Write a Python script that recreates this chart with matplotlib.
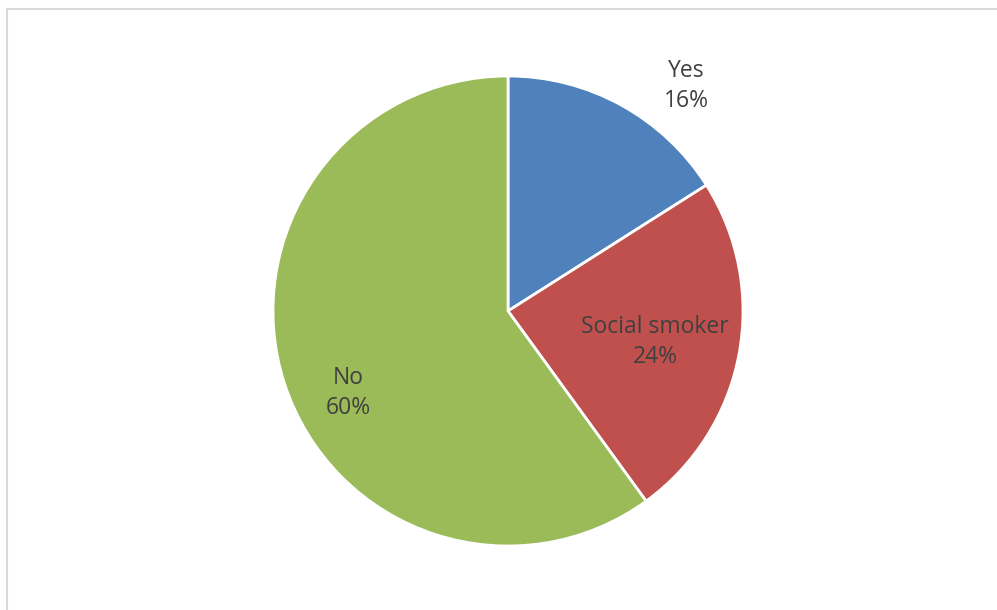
import matplotlib.pyplot as plt
from matplotlib.lines import Line2D

labels = ['Yes', 'Social smoker', 'No']
shares = [16, 24, 60]
colors = ['#4F81BD', '#C0504D', '#9BBB59']

# where each label sits, in units of the pie radius
label_pos = [(0.76, 0.957), (0.626, -0.132), (-0.681, -0.349)]

fig = plt.figure(figsize=(9.97, 6.1), dpi=100)

# thin grey chart-area frame
fig.add_artist(Line2D([6.5 / 997, 6.5 / 997], [0, 1 - 8.5 / 610], color='#D9D9D9', lw=1.5))
fig.add_artist(Line2D([6.5 / 997, 1], [1 - 8.5 / 610, 1 - 8.5 / 610], color='#D9D9D9', lw=1.5))

cx, cy, r = 508, 311, 235
ax = fig.add_axes([(cx - r) / 997, (610 - cy - r) / 610, 2 * r / 997, 2 * r / 610])
wedges, _ = ax.pie(shares, colors=colors, startangle=90, counterclock=False, radius=1,
                   wedgeprops=dict(edgecolor='white', linewidth=2))
ax.set_xlim(-1, 1)
ax.set_ylim(-1, 1)
ax.set_aspect('equal')
ax.axis('off')

for lab, val, (x, y) in zip(labels, shares, label_pos):
    ax.text(x, y, f'{lab}\n{val}%', ha='center', va='center', fontsize=16.5,
            color='#404040', family='Open Sans', linespacing=1.3)

fig.savefig('out.png', dpi=100)
